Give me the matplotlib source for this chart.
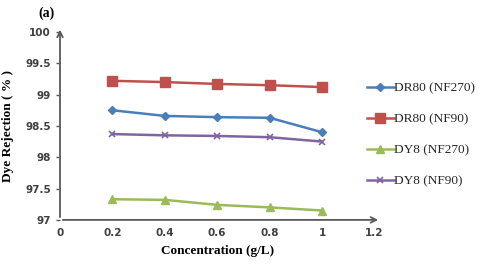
import matplotlib
matplotlib.use("Agg")
import matplotlib.pyplot as plt

conc = [0.2, 0.4, 0.6, 0.8, 1.0]
dr80_nf270 = [98.75, 98.66, 98.64, 98.63, 98.40]
dr80_nf90 = [99.22, 99.20, 99.17, 99.15, 99.12]
dy8_nf270 = [97.33, 97.32, 97.24, 97.20, 97.15]
dy8_nf90 = [98.37, 98.35, 98.34, 98.32, 98.25]

xticks = [0, 0.2, 0.4, 0.6, 0.8, 1, 1.2]
xticklabels = ["0", "0.2", "0.4", "0.6", "0.8", "1", "1.2"]
yticks = [97, 97.5, 98, 98.5, 99, 99.5, 100]
yticklabels = ["97", "97.5", "98", "98.5", "99", "99.5", "100"]

fig = plt.figure(figsize=(4.8, 2.64), dpi=100)
ax = fig.add_axes([0.125, 0.167, 0.655, 0.712])

ax.plot(conc, dr80_nf270, color="#4a7ebb", lw=1.8, marker="D", ms=4.5, label="DR80 (NF270)")
ax.plot(conc, dr80_nf90, color="#c0504d", lw=1.8, marker="s", ms=7, label="DR80 (NF90)")
ax.plot(conc, dy8_nf270, color="#9bbb59", lw=1.8, marker="^", ms=6, label="DY8 (NF270)")
ax.plot(conc, dy8_nf90, color="#8064a2", lw=1.8, marker="x", ms=5, mew=1.2, label="DY8 (NF90)")

ax.set_xlim(0, 1.2)
ax.set_ylim(97, 100)
for s in ax.spines.values():
    s.set_visible(False)
ax.annotate("", xy=(1.225, 97), xytext=(0, 97), xycoords="data",
            arrowprops=dict(arrowstyle="->", color="#595959", lw=1.3), annotation_clip=False)
ax.annotate("", xy=(0, 100.08), xytext=(0, 97), xycoords="data",
            arrowprops=dict(arrowstyle="->", color="#595959", lw=1.3), annotation_clip=False)

ax.set_xticks(xticks)
ax.set_xticklabels(xticklabels)
ax.set_yticks(yticks)
ax.set_yticklabels(yticklabels)
ax.tick_params(axis="both", labelsize=7.5, colors="#595959", labelcolor="#404040", length=3, width=1)
ax.tick_params(axis="x", length=0, pad=6)
for lab in ax.get_xticklabels() + ax.get_yticklabels():
    lab.set_fontweight("bold")

ax.set_xlabel("Concentration (g/L)", fontfamily="Liberation Serif", fontweight="bold", fontsize=9.5, labelpad=5)
ax.set_ylabel("Dye Rejection ( % )", fontfamily="Liberation Serif", fontweight="bold", fontsize=9.5, labelpad=8)

fig.text(0.08, 0.935, "(a)", fontfamily="Liberation Serif", fontweight="bold", fontsize=10)

leg = ax.legend(loc="upper left", bbox_to_anchor=(0.96, 0.76), frameon=False,
                prop={"family": "Liberation Serif", "size": 9.6}, labelspacing=1.4,
                handlelength=2.0, handletextpad=0.0, borderaxespad=0)
for t in leg.get_texts():
    t.set_color("#262626")

fig.savefig("out.png", dpi=100)
